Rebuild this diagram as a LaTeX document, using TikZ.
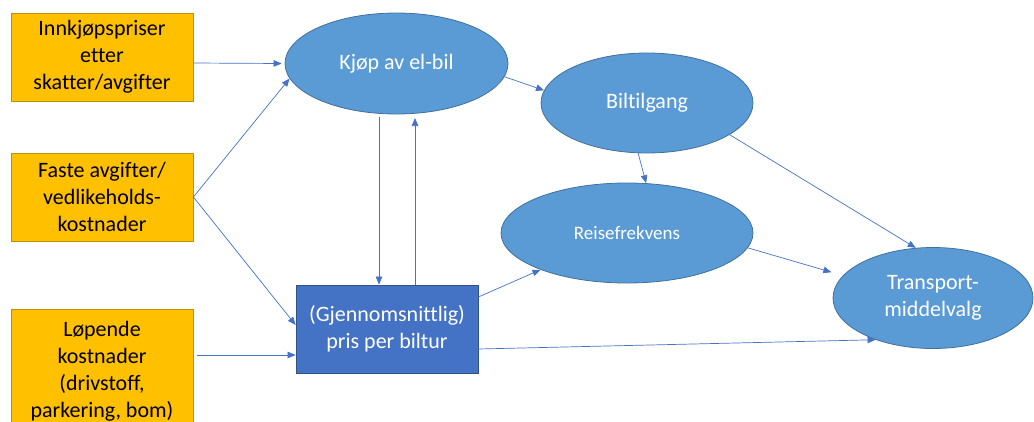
\documentclass[tikz,border=0pt]{standalone}
\usepackage{fontspec}
\setmainfont{Carlito}[Ligatures={TeX,NoCommon}]
\usetikzlibrary{shapes.geometric,arrows.meta}
\definecolor{boxfill}{HTML}{FFC000}
\definecolor{boxline}{HTML}{BF9000}
\definecolor{ellfill}{HTML}{5B9BD5}
\definecolor{ellline}{HTML}{41719C}
\definecolor{recfill}{HTML}{4472C4}
\definecolor{recline}{HTML}{2F528F}
\definecolor{arrcol}{HTML}{4472C4}
\begin{document}
\begin{tikzpicture}[x=1pt,y=-1pt,
  txt/.style={font=\fontsize{22}{27}\selectfont, align=center, inner sep=0pt},
  srcbox/.style={txt, rectangle, draw=boxline, fill=boxfill, line width=0.8pt, minimum width=182pt},
  factor/.style={txt, ellipse, draw=ellline, fill=ellfill, line width=0.8pt, text=white},
  pricebox/.style={txt, rectangle, draw=recline, fill=recfill, line width=0.8pt, text=white,
                   minimum width=182pt, minimum height=88pt},
  arr/.style={draw=arrcol, line width=0.7pt, -{Triangle[length=8pt,width=6.5pt]}}]
\useasboundingbox (0,0) rectangle (1034,421);

% cost inputs
\node[srcbox, minimum height=88pt] (b1) at (102,57) {Innkjøpspriser\\etter\\skatter/avgifter};
\node[srcbox, minimum height=88pt] (b2) at (102,197) {Faste avgifter/\\vedlikeholds-\\kostnader};
\node[srcbox, minimum height=125pt] (b3) at (102,371.5) {\raisebox{2pt}{\begin{tabular}{@{}c@{}}Løpende\\kostnader\\(drivstoff,\\parkering, bom)\end{tabular}}};

% decisions and outcomes
\node[factor, minimum width=223pt, minimum height=101pt] (e1) at (396.5,63.5) {Kjøp av el-bil};
\node[factor, minimum width=212pt, minimum height=100pt] (e2) at (647,103) {Biltilgang};
\node[factor, minimum width=252pt, minimum height=100pt, font=\fontsize{19}{23}\selectfont] (e3) at (627,233) {Reisefrekvens};
\node[factor, minimum width=200pt, minimum height=101pt] (e4) at (933,298) {Transport-\\middelvalg};

\node[pricebox] (r) at (387,329) {(Gjennomsnittlig)\\pris per biltur};

% connectors
\draw[arr] ([yshift=-6pt]b1.east) -- ([xshift=-3pt]e1.west);
\draw[arr] (b2.east) -- (e1.188);
\draw[arr] (b2.east) -- ([yshift=4pt]r.west);
\coordinate (rin) at ([yshift=-26pt]r.west);
\draw[arr] ([xshift=4pt]b3.east |- rin) -- (rin);

\coordinate (dtop) at (379,117);
\draw[arr] (dtop) -- (dtop |- r.north);
\coordinate (utop) at (415,118);
\draw[arr] (utop |- r.north) -- (utop);

\draw[arr] (e1.-7) -- (e2.173);
\draw[arr] (e2.260) -- (e3.69);
\draw[arr] (e2.-21) -- (e4.109);
\draw[arr, shorten >=12pt] (e3.-7.5) -- (e4.166);
\draw[arr] ([yshift=32pt]r.east) -- (e3.203);
\draw[arr] ([yshift=-20pt]r.east) -- (e4.216);
\end{tikzpicture}
\end{document}
